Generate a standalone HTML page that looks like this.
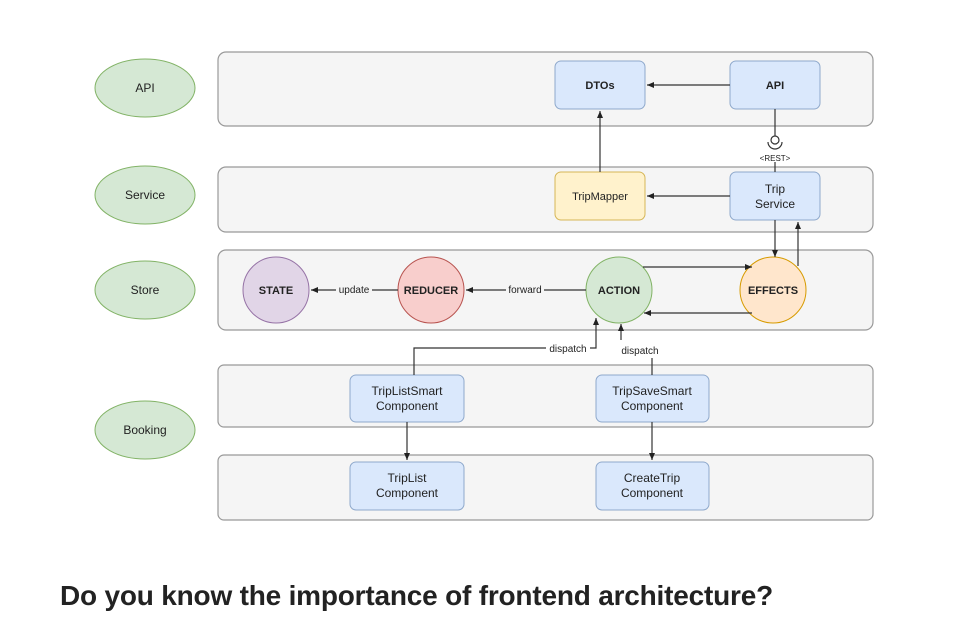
<!DOCTYPE html>
<html><head><meta charset="utf-8"><style>
body{margin:0;background:#fff;width:956px;height:622px;overflow:hidden;font-family:"Liberation Sans",sans-serif}
svg text{font-family:"Liberation Sans",sans-serif;fill:#222}
.t{position:absolute;left:60px;top:580px;font-size:28px;font-weight:bold;color:#222;letter-spacing:-0.2px}
</style></head><body>
<svg width="956" height="622" style="position:absolute;left:0;top:0">
<defs><marker id="a" markerWidth="8" markerHeight="8" refX="7" refY="4" orient="auto" markerUnits="userSpaceOnUse"><path d="M0,1 L7,4 L0,7z" fill="#222"/></marker></defs>
<g fill="#f5f5f5" stroke="#999" stroke-width="1.2">
<rect x="218" y="52" width="655" height="74" rx="8"/>
<rect x="218" y="167" width="655" height="65" rx="8"/>
<rect x="218" y="250" width="655" height="80" rx="8"/>
<rect x="218" y="365" width="655" height="62" rx="6"/>
<rect x="218" y="455" width="655" height="65" rx="6"/>
</g>
<g fill="#d5e8d4" stroke="#82b366" stroke-width="1">
<ellipse cx="145" cy="88" rx="50" ry="29"/>
<ellipse cx="145" cy="195" rx="50" ry="29"/>
<ellipse cx="145" cy="290" rx="50" ry="29"/>
<ellipse cx="145" cy="430" rx="50" ry="29"/>
</g>
<g font-size="12" text-anchor="middle">
<text x="145" y="92">API</text><text x="145" y="199">Service</text><text x="145" y="294">Store</text><text x="145" y="434">Booking</text>
</g>
<g fill="#dae8fc" stroke="#8fa9cc" stroke-width="1">
<rect x="555" y="61" width="90" height="48" rx="6"/>
<rect x="730" y="61" width="90" height="48" rx="6"/>
<rect x="730" y="172" width="90" height="48" rx="6"/>
<rect x="350" y="375" width="114" height="47" rx="6"/>
<rect x="596" y="375" width="113" height="47" rx="6"/>
<rect x="350" y="462" width="114" height="48" rx="6"/>
<rect x="596" y="462" width="113" height="48" rx="6"/>
</g>
<rect x="555" y="172" width="90" height="48" rx="6" fill="#fff2cc" stroke="#d6b656"/>
<circle cx="276" cy="290" r="33" fill="#e1d5e7" stroke="#9673a6"/>
<circle cx="431" cy="290" r="33" fill="#f8cecc" stroke="#b85450"/>
<circle cx="619" cy="290" r="33" fill="#d5e8d4" stroke="#82b366"/>
<circle cx="773" cy="290" r="33" fill="#ffe6cc" stroke="#d79b00"/>
<g font-size="11" font-weight="bold" text-anchor="middle">
<text x="600" y="89">DTOs</text><text x="775" y="89">API</text>
<text x="600" y="200" font-weight="normal">TripMapper</text>
<text x="276" y="294">STATE</text><text x="431" y="294">REDUCER</text><text x="619" y="294">ACTION</text><text x="773" y="294">EFFECTS</text>
</g>
<g font-size="12" text-anchor="middle">
<text x="775" y="193">Trip</text><text x="775" y="208">Service</text>
<text x="407" y="395">TripListSmart</text><text x="407" y="410">Component</text>
<text x="652" y="395">TripSaveSmart</text><text x="652" y="410">Component</text>
<text x="407" y="482">TripList</text><text x="407" y="497">Component</text>
<text x="652" y="482">CreateTrip</text><text x="652" y="497">Component</text>
</g>
<g stroke="#333" stroke-width="1.2" fill="none">
<line x1="730" y1="85" x2="647" y2="85" marker-end="url(#a)"/>
<line x1="600" y1="172" x2="600" y2="111" marker-end="url(#a)"/>
<line x1="730" y1="196" x2="647" y2="196" marker-end="url(#a)"/>
<line x1="775" y1="109" x2="775" y2="136"/>
<circle cx="775" cy="140" r="4"/>
<path d="M768,142 A7,7 0 0 0 782,142"/>
<line x1="775" y1="162" x2="775" y2="172"/>
<line x1="775" y1="220" x2="775" y2="257" marker-end="url(#a)"/>
<line x1="798" y1="266" x2="798" y2="222" marker-end="url(#a)"/>
<line x1="643" y1="267" x2="752" y2="267" marker-end="url(#a)"/>
<line x1="752" y1="313" x2="644" y2="313" marker-end="url(#a)"/>
<line x1="586" y1="290" x2="466" y2="290" marker-end="url(#a)"/>
<line x1="398" y1="290" x2="311" y2="290" marker-end="url(#a)"/>
<path d="M414,375 V348 H596 V318" marker-end="url(#a)"/>
<path d="M652,375 V358"/>
<line x1="621" y1="340" x2="621" y2="324" marker-end="url(#a)"/>
<line x1="407" y1="422" x2="407" y2="460" marker-end="url(#a)"/>
<line x1="652" y1="422" x2="652" y2="460" marker-end="url(#a)"/>
</g>
<g font-size="10" text-anchor="middle">
<rect x="336" y="284" width="36" height="11" fill="#f5f5f5"/><text x="354" y="293">update</text>
<rect x="506" y="284" width="38" height="11" fill="#f5f5f5"/><text x="525" y="293">forward</text>
<rect x="546" y="343" width="44" height="11" fill="#fff"/><text x="568" y="352">dispatch</text>
<text x="640" y="354">dispatch</text>
<text x="775" y="161" font-size="8">&lt;REST&gt;</text>
</g>
</svg>
<div class="t">Do you know the importance of frontend architecture?</div>
</body></html>
